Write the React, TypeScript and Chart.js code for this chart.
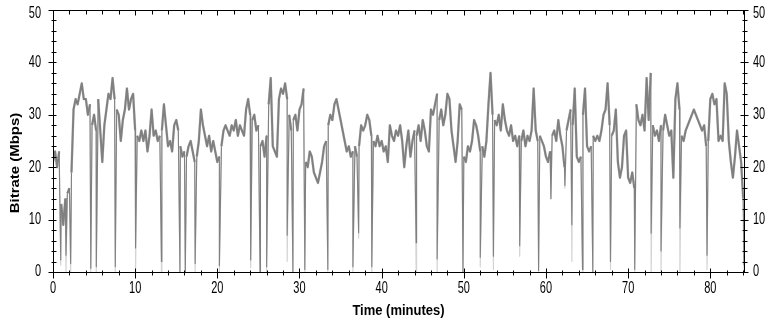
import React, { useEffect, useRef } from "react";
import { Chart, registerables } from "chart.js";

Chart.register(...registerables);

// Sampling interval of the bitrate trace (minutes)
const STEP_MIN = 0.25;

// Bitrate (Mbps) sampled every STEP_MIN minutes, starting at t = 0
const BITRATE = [
  21, 23, 20, 23, 13, 9, 14, 15, 16, 19, 31, 33, 32, 34, 36, 33, 33, 30, 32, 28,
  30, 27, 33, 27, 21, 28, 31, 34, 33, 37, 33, 31, 30, 25, 29, 31, 35, 31, 33, 34,
  27, 26, 25, 27, 25, 27, 23, 26, 31, 26, 27, 25, 26, 27, 32, 28, 24, 25, 23, 28,
  29, 27, 24, 22, 23, 22, 24, 25, 23, 21, 22, 25, 31, 28, 26, 24, 26, 23, 25, 23,
  21, 22, 24, 27, 28, 27, 26, 28, 27, 29, 26, 28, 27, 26, 31, 33, 30, 29, 30, 27,
  28, 24, 25, 22, 26, 32, 37, 24, 23, 22, 33, 35, 34, 36, 33, 30, 27, 29, 30, 27,
  31, 32, 35, 21, 20, 23, 22, 19, 18, 17, 19, 21, 24, 25, 28, 30, 29, 32, 33, 31,
  29, 27, 25, 23, 24, 22, 23, 24, 22, 24, 28, 27, 28, 30, 29, 26, 25, 24, 26, 24,
  25, 23, 24, 21, 28, 26, 25, 27, 26, 28, 25, 20, 24, 27, 22, 25, 27, 26, 28, 25,
  29, 27, 24, 23, 31, 30, 32, 34, 29, 31, 28, 30, 34, 33, 27, 24, 21, 25, 32, 31,
  22, 21, 24, 23, 25, 29, 28, 26, 23, 24, 22, 25, 32, 38, 30, 29, 28, 30, 27, 32,
  29, 27, 26, 28, 25, 26, 24, 26, 25, 27, 24, 26, 25, 27, 35, 27, 25, 26, 25, 24,
  22, 21, 23, 26, 27, 25, 29, 26, 24, 20, 27, 29, 31, 28, 35, 22, 21, 22, 30, 35,
  24, 23, 24, 26, 25, 26, 25, 27, 30, 31, 36, 28, 26, 27, 31, 21, 18, 20, 26, 27,
  18, 17, 19, 16, 32, 29, 28, 30, 27, 37, 29, 38, 28, 26, 27, 25, 28, 27, 30, 28,
  26, 27, 18, 33, 36, 31, 26, 25, 27, 28, 29, 30, 31, 30, 29, 28, 27, 28, 24, 25,
  33, 34, 32, 33, 25, 26, 25, 36, 34, 25, 21, 18, 22, 27, 24, 21, 14,
];

// Short bitrate drops: time (minutes), minimum of main trace, minimum of light trace
const DIP_TIMES = [
  0.94, 1.58, 2.15, 4.6, 5.27, 7.58, 10.05, 13.2, 15.45, 16.1, 17.3, 20.25, 24.06,
  25.2, 26.0, 28.5, 29.2, 30.65, 33.45, 36.5, 37.2, 38.8, 44.2, 46.75, 49.9, 52.0,
  53.6, 56.8, 59.1, 60.6, 62.3, 63.15, 64.45, 65.7, 67.85, 70.8, 72.8, 74.0, 76.3,
  79.6, 84.1,
];
const DIP_MAIN = [
  2.3, 3.2, 1.6, 0.7, 1, 1, 4.6, 2, 0, 0, 1.6, 1.2, 2.3,
  0, 1, 7, 0, 0.5, 0.5, 1, 7.5, 1, 5.6, 2.5, 0, 2.8,
  3, 5, 0.3, 14, 16.5, 9, 0.5, 0, 2, 0.5, 7.4, 4, 8.4,
  3.2, 1.3,
];
const DIP_LIGHT = [
  1.3, 0, 0, 0, 0, 0, 0, 0, 0, 0, 0, 0, 0.8,
  0, 0, 2, 0, 0, 0, 0, 6.5, 0, 0, 0, 0, 1,
  0.5, 3, 0, 14, 16, 2, 0, 0, 0.5, 0, 0, 0, 0,
  0.5, 0,
];

const X_MAX = 84.1;
const Y_MAX = 50;
const X_TICKS = [0, 10, 20, 30, 40, 50, 60, 70, 80];
const Y_TICKS = [0, 10, 20, 30, 40, 50];
const X_TITLE = "Time (minutes)";
const Y_TITLE = "Bitrate (Mbps)";

const TICK_FONT = '11px "Liberation Sans", Arial, sans-serif';
const TITLE_FONT = 'bold 13px "Liberation Sans", Arial, sans-serif';

type Pt = { x: number; y: number; dip: boolean };

function buildSeries(dipMins: number[]): Pt[] {
  const pts: Pt[] = BITRATE.map((v, i) => ({ x: i * STEP_MIN, y: v, dip: false }));
  DIP_TIMES.forEach((t, k) => pts.push({ x: t, y: dipMins[k], dip: true }));
  pts.sort((a, b) => a.x - b.x);
  return pts;
}

function stretchedText(
  ctx: CanvasRenderingContext2D,
  text: string,
  x: number,
  y: number,
  align: CanvasTextAlign,
  sx: number,
  sy: number,
  rot = 0
) {
  ctx.save();
  ctx.translate(x, y);
  if (rot) ctx.rotate(rot);
  ctx.scale(sx, sy);
  ctx.textAlign = align;
  ctx.textBaseline = "middle";
  ctx.fillText(text, 0, 0);
  ctx.restore();
}

const framePlugin = {
  id: "frame",
  afterDatasetsDraw(chart: any) {
    const { ctx, chartArea, scales } = chart;
    const xs = scales.x;
    const ys = scales.y;
    const L = Math.round(chartArea.left) + 0.5;
    const R = Math.round(chartArea.right) + 0.5;
    const T = Math.round(chartArea.top) + 0.5;
    const B = Math.round(chartArea.bottom) + 0.5;
    ctx.save();
    ctx.strokeStyle = "#000";
    ctx.lineWidth = 1;
    ctx.beginPath();
    ctx.rect(L, T, R - L, B - T);
    for (let v = 0; v <= X_MAX; v += 2) {
      const px = Math.round(xs.getPixelForValue(v)) + 0.5;
      const major = v % 10 === 0;
      ctx.moveTo(px, B - (major ? 4 : 2));
      ctx.lineTo(px, B + (major ? 6 : 3));
      ctx.moveTo(px, T);
      ctx.lineTo(px, T + (major ? 5 : 4));
    }
    for (let v = 0; v <= Y_MAX; v += 2) {
      const py = Math.round(ys.getPixelForValue(v)) + 0.5;
      const major = v % 10 === 0;
      ctx.moveTo(L - (major ? 5 : 2), py);
      ctx.lineTo(L + 3, py);
      ctx.moveTo(R - (major ? 4 : 2), py);
      ctx.lineTo(R + (major ? 4 : 3), py);
    }
    ctx.stroke();

    ctx.fillStyle = "#000";
    ctx.font = TICK_FONT;
    X_TICKS.forEach((v) => {
      stretchedText(ctx, String(v), xs.getPixelForValue(v), 289, "center", 1, 1.45);
    });
    Y_TICKS.forEach((v) => {
      const py = Math.max(ys.getPixelForValue(v), chartArea.top + 3.5);
      stretchedText(ctx, String(v), 41, py, "right", 1, 1.45);
      stretchedText(ctx, String(v), 753, py, "left", 1, 1.45);
    });

    ctx.font = TITLE_FONT;
    stretchedText(ctx, X_TITLE, (chartArea.left + chartArea.right) / 2, 311, "center", 1, 1.15);
    stretchedText(ctx, Y_TITLE, 15, 163, "center", 1.15, 1, -Math.PI / 2);
    ctx.restore();
  },
};

export default function App() {
  const ref = useRef<HTMLCanvasElement | null>(null);

  useEffect(() => {
    document.body.style.margin = "0";
    const canvas = ref.current;
    if (!canvas) return;
    const mainData = buildSeries(DIP_MAIN);
    const lightData = buildSeries(DIP_LIGHT);
    const widthFor = (data: Pt[], thin: number, thick: number) => (c: any) =>
      data[c.p0DataIndex]?.dip || data[c.p1DataIndex]?.dip ? thin : thick;
    const hiddenScale = {
      type: "linear" as const,
      min: 0,
      max: Y_MAX,
      grid: { display: false },
      border: { display: false },
      ticks: { display: false, stepSize: 10 },
    };
    const chart = new Chart(canvas, {
      type: "line",
      data: {
        datasets: [
          {
            data: mainData as any,
            borderColor: "#808080",
            borderWidth: 2,
            borderJoinStyle: "round",
            pointRadius: 0,
            tension: 0,
            yAxisID: "y",
            segment: { borderWidth: widthFor(mainData, 1.1, 2) },
          },
          {
            data: lightData as any,
            borderColor: "#d4d4d4",
            borderWidth: 2.6,
            borderJoinStyle: "round",
            pointRadius: 0,
            tension: 0,
            yAxisID: "y",
            segment: { borderWidth: widthFor(lightData, 1.2, 2.6) },
          },
        ],
      },
      options: {
        animation: false,
        responsive: false,
        events: [],
        layout: { padding: { top: 10, left: 0, right: 0, bottom: 0 } },
        plugins: { legend: { display: false }, tooltip: { enabled: false } },
        scales: {
          x: {
            type: "linear",
            min: 0,
            max: X_MAX,
            grid: { display: false },
            border: { display: false },
            ticks: { display: false, stepSize: 10 },
            afterFit(s: any) {
              s.height = 51;
            },
          },
          y: {
            ...hiddenScale,
            position: "left",
            afterFit(s: any) {
              s.width = 53;
            },
          },
          y2: {
            ...hiddenScale,
            position: "right",
            afterFit(s: any) {
              s.width = 33;
            },
          },
        },
      },
      plugins: [framePlugin],
    });
    return () => chart.destroy();
  }, []);

  return (
    <div style={{ position: "fixed", left: 0, top: 0, width: 777, height: 323, background: "#fff" }}>
      <canvas ref={ref} width={777} height={323} />
    </div>
  );
}
